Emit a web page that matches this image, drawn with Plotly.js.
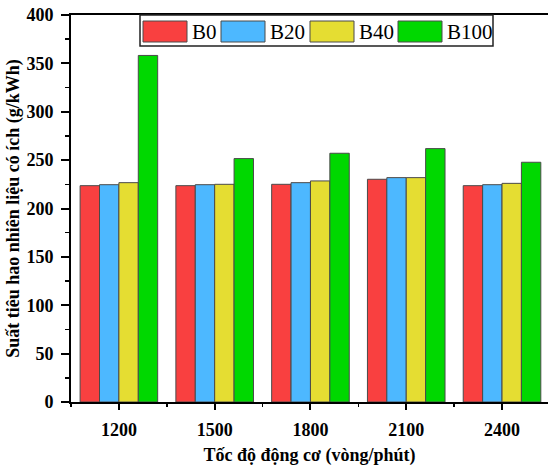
<!DOCTYPE html>
<html>
<head>
<meta charset="utf-8">
<script src="https://cdn.plot.ly/plotly-3.0.1.min.js"></script>
<style>html,body{margin:0;padding:0;background:#fff;}#chart{width:548px;height:466px;}</style>
</head>
<body>
<div id="chart"></div>
<script>
// ---- data ----
var categories = ["1200", "1500", "1800", "2100", "2400"];
var seriesNames = ["B0", "B20", "B40", "B100"];
var B0   = [223.6, 223.6, 225.0, 230.2, 223.6];
var B20  = [224.6, 224.6, 226.7, 231.9, 224.6];
var B40  = [226.7, 225.0, 228.5, 231.9, 226.0];
var B100 = [358.2, 251.6, 257.1, 261.9, 247.8];
var seriesValues = [B0, B20, B40, B100];
var colors = ["#F94040", "#4DB8FF", "#E5DD32", "#00D800"];

var xTitle = "Tốc độ động cơ (vòng/phút)";
var yTitle = "Suất tiêu hao nhiên liệu có ích (g/kWh)";

var FONT = "Liberation Serif, Times New Roman, serif";
var W = 548, H = 466;
var M = {l: 71, r: 0, t: 15, b: 64};
var PW = W - M.l - M.r, PH = H - M.t - M.b;
function px(x) { return (x - M.l) / PW; }
function py(y) { return (H - M.b - y) / PH; }

var xPos = categories.map(function (c, i) { return i; });

var traces = seriesNames.map(function (name, k) {
  return {
    type: "bar",
    name: name,
    x: xPos,
    y: seriesValues[k],
    marker: {color: colors[k], line: {color: "#4a4a4a", width: 1}},
    showlegend: false,
    hoverinfo: "y+name"
  };
});

// ---- custom legend (wide swatches, like the original) ----
var shapes = [];
var annotations = [];
shapes.push({type: "rect", xref: "paper", yref: "paper",
  x0: px(140), x1: px(493), y0: py(46), y1: py(15),
  line: {color: "#222", width: 1.5}, fillcolor: "rgba(255,255,255,1)", layer: "above"});
var swL = [143, 221, 310, 398];
seriesNames.forEach(function (name, k) {
  shapes.push({type: "rect", xref: "paper", yref: "paper",
    x0: px(swL[k]), x1: px(swL[k] + 44), y0: py(42), y1: py(21),
    fillcolor: colors[k], line: {color: "#4a4a4a", width: 1}, layer: "above"});
  annotations.push({xref: "paper", yref: "paper", x: px(swL[k] + 47), y: py(32),
    xanchor: "left", yanchor: "middle", showarrow: false, text: name,
    font: {family: FONT, size: 21, color: "#000"}});
});

var layout = {
  width: W, height: H,
  margin: M,
  paper_bgcolor: "#fff", plot_bgcolor: "#fff",
  barmode: "group", bargap: 0.19, bargroupgap: 0,
  font: {family: FONT, color: "#000"},
  xaxis: {
    range: [-0.5, 4.48], tickvals: xPos, ticktext: categories,
    showgrid: false, zeroline: false,
    showline: true, linecolor: "#000", linewidth: 2, mirror: true,
    ticks: "outside", ticklen: 6, tickwidth: 2, tickcolor: "#000",
    minor: {tick0: 0.5, dtick: 1, ticks: "outside", ticklen: 3, tickwidth: 1.5, tickcolor: "#000"},
    tickfont: {family: FONT, size: 18, weight: "bold", color: "#000"},
    ticklabelstandoff: 4,
    title: {text: xTitle, font: {family: FONT, size: 18, weight: "bold", color: "#000"}, standoff: 12},
    automargin: false, fixedrange: true
  },
  yaxis: {
    range: [0, 400], dtick: 50, tick0: 0,
    showgrid: false, zeroline: false,
    showline: true, linecolor: "#000", linewidth: 2, mirror: false,
    ticks: "outside", ticklen: 8, tickwidth: 2, tickcolor: "#000",
    minor: {dtick: 25, ticks: "outside", ticklen: 4, tickwidth: 1.5, tickcolor: "#000"},
    tickfont: {family: FONT, size: 18, weight: "bold", color: "#000"},
    ticklabelstandoff: 4,
    title: {text: yTitle, font: {family: FONT, size: 18, weight: "bold", color: "#000"}, standoff: 2},
    automargin: false, fixedrange: true
  },
  shapes: shapes,
  annotations: annotations
};

Plotly.newPlot("chart", traces, layout, {displayModeBar: false, staticPlot: true});
</script>
</body>
</html>
